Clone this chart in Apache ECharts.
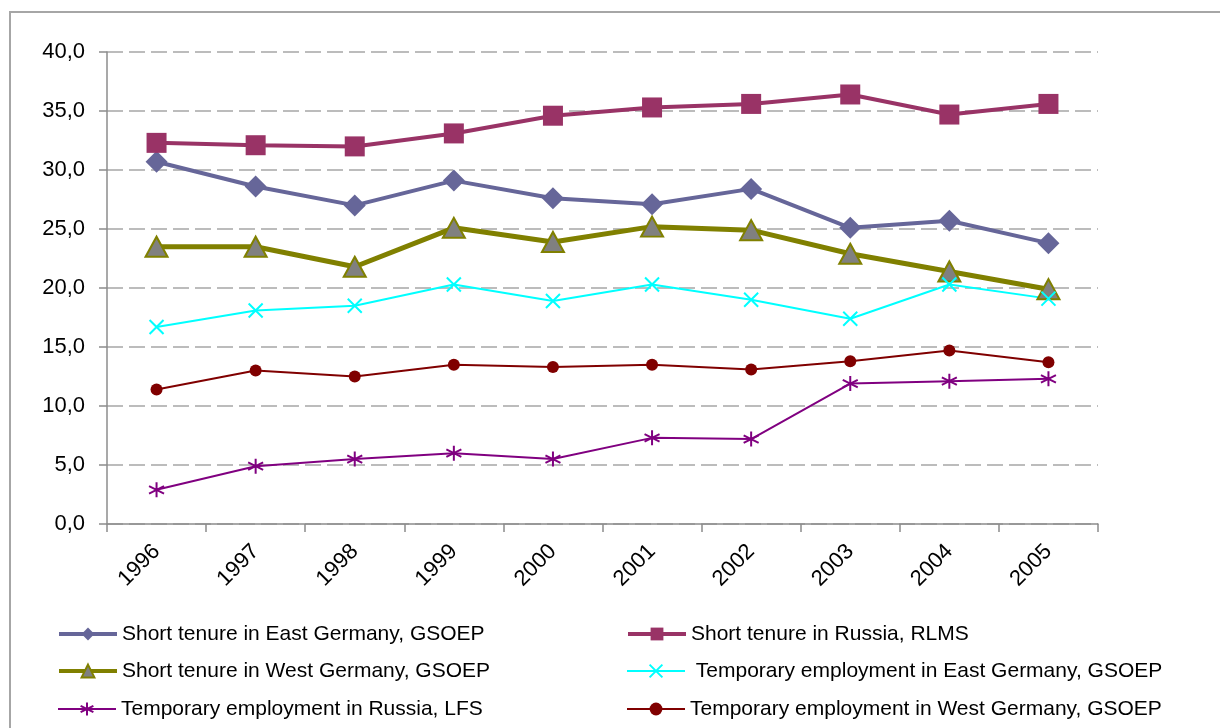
<!DOCTYPE html>
<html>
<head>
<meta charset="utf-8">
<script src="https://cdn.jsdelivr.net/npm/echarts@6/dist/echarts.min.js"></script>
<style>
html,body{margin:0;padding:0;background:#fff;}
#c{width:1220px;height:728px;}
</style>
</head>
<body>
<div id="c"></div>
<script>
var years = ['1996','1997','1998','1999','2000','2001','2002','2003','2004','2005'];
var yTicks = [0, 40, 5];
var shortEast   = [30.7, 28.6, 27.0, 29.1, 27.6, 27.1, 28.4, 25.1, 25.7, 23.8];
var shortRussia = [32.3, 32.1, 32.0, 33.1, 34.6, 35.3, 35.6, 36.4, 34.7, 35.6];
var shortWest   = [23.5, 23.5, 21.8, 25.1, 23.9, 25.2, 24.9, 22.9, 21.4, 19.9];
var tempEast    = [16.7, 18.1, 18.5, 20.3, 18.9, 20.3, 19.0, 17.4, 20.3, 19.1];
var tempRussia  = [2.9, 4.9, 5.5, 6.0, 5.5, 7.3, 7.2, 11.9, 12.1, 12.3];
var tempWest    = [11.4, 13.0, 12.5, 13.5, 13.3, 13.5, 13.1, 13.8, 14.7, 13.7];
var names = [
  'Short tenure in East Germany, GSOEP',
  'Short tenure in Russia, RLMS',
  'Short tenure in West Germany, GSOEP',
  'Temporary employment in East Germany, GSOEP',
  'Temporary employment in Russia, LFS',
  'Temporary employment in West Germany, GSOEP'
];

var FONT = '"Liberation Sans", Arial, sans-serif';
var crossPath = 'path://M0,0L10,10M10,0L0,10';
var starPath = 'path://M5,0L5,10M0.7,2.5L9.3,7.5M0.7,7.5L9.3,2.5';

function legendAt(name, left, top, lw, fmt) {
  return {
    data: [name], left: left, top: top, orient: 'horizontal',
    itemWidth: 58, itemHeight: 16, itemGap: 0, padding: 0,
    formatter: fmt || '{name}',
    lineStyle: { width: lw },
    textStyle: { fontFamily: FONT, fontSize: 21, color: '#000', lineHeight: 22 }
  };
}

var chart = echarts.init(document.getElementById('c'), null, { renderer: 'canvas' });
chart.setOption({
  animation: false,
  backgroundColor: '#fff',
  graphic: [{
    type: 'rect', z: -10,
    shape: { x: 10, y: 12, width: 1400, height: 900 },
    style: { fill: 'none', stroke: '#a6a6a6', lineWidth: 2 }
  }],
  grid: { left: 107, right: 122, top: 52, bottom: 204, containLabel: false },
  legend: [
    legendAt(names[0], 57, 623, 4),
    legendAt(names[2], 57, 660, 4),
    legendAt(names[4], 57, 698, 2),
    legendAt(names[1], 626, 623, 4),
    legendAt(names[3], 626, 660, 2, ' {name}'),
    legendAt(names[5], 626, 698, 2)
  ],
  xAxis: {
    type: 'category', data: years, boundaryGap: true,
    axisLine: { lineStyle: { color: '#8c8c8c', width: 1.5 } },
    axisTick: { show: true, length: 8, lineStyle: { color: '#8c8c8c', width: 1.5 } },
    axisLabel: { rotate: 45, margin: 24, fontFamily: FONT, fontSize: 22, color: '#000' },
    splitLine: { show: false }
  },
  yAxis: {
    type: 'value', min: yTicks[0], max: yTicks[1], interval: yTicks[2],
    axisLine: { show: true, lineStyle: { color: '#8c8c8c', width: 1.5 } },
    axisTick: { show: true, length: 8, lineStyle: { color: '#8c8c8c', width: 1.5 } },
    axisLabel: {
      margin: 22, fontFamily: FONT, fontSize: 22, color: '#000',
      formatter: function (v) { return v.toFixed(1).replace('.', ','); }
    },
    splitLine: { show: true, lineStyle: { color: '#a6a6a6', width: 1.5, type: [16, 6] } }
  },
  series: [
    {
      name: names[0], type: 'line', data: shortEast,
      symbol: 'diamond', symbolSize: 22,
      lineStyle: { color: '#666699', width: 4 },
      itemStyle: { color: '#666699', borderWidth: 0 }
    },
    {
      name: names[1], type: 'line', data: shortRussia,
      symbol: 'rect', symbolSize: 20,
      lineStyle: { color: '#993366', width: 4 },
      itemStyle: { color: '#993366', borderWidth: 0 }
    },
    {
      name: names[2], type: 'line', data: shortWest,
      symbol: 'triangle', symbolSize: [22, 20],
      lineStyle: { color: '#808000', width: 5 },
      itemStyle: { color: '#808080', borderColor: '#808000', borderWidth: 2 }
    },
    {
      name: names[3], type: 'line', data: tempEast,
      symbol: crossPath, symbolSize: 14,
      lineStyle: { color: '#00ffff', width: 2 },
      itemStyle: { color: '#00ffff', borderColor: '#00ffff', borderWidth: 2 }
    },
    {
      name: names[4], type: 'line', data: tempRussia,
      symbol: starPath, symbolSize: 15,
      lineStyle: { color: '#800080', width: 2 },
      itemStyle: { color: '#800080', borderColor: '#800080', borderWidth: 2 }
    },
    {
      name: names[5], type: 'line', data: tempWest,
      symbol: 'circle', symbolSize: 12,
      lineStyle: { color: '#800000', width: 2 },
      itemStyle: { color: '#800000', borderWidth: 0 }
    }
  ]
});
</script>
</body>
</html>
